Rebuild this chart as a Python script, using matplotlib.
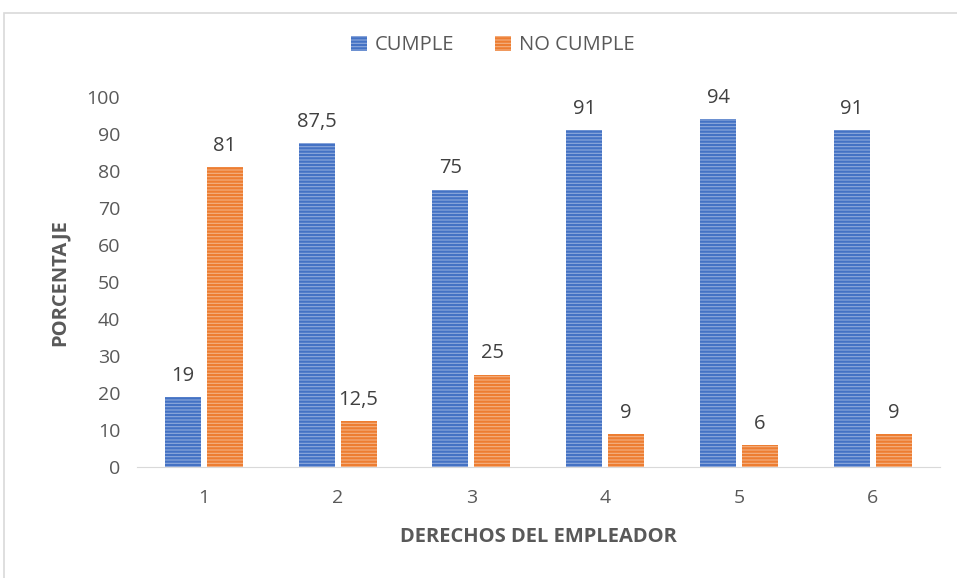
import matplotlib
matplotlib.use('Agg')
import matplotlib.pyplot as plt
import numpy as np
from matplotlib.patches import Rectangle

categorias = ['1', '2', '3', '4', '5', '6']
cumple = [19, 87.5, 75, 91, 94, 91]
no_cumple = [81, 12.5, 25, 9, 6, 9]
etiquetas_cumple = ['19', '87,5', '75', '91', '94', '91']
etiquetas_no_cumple = ['81', '12,5', '25', '9', '6', '9']

plt.rcParams['font.family'] = ['Open Sans', 'DejaVu Sans']
plt.rcParams['hatch.linewidth'] = 1.6
gris = '#595959'

fig = plt.figure(figsize=(9.57, 5.78), dpi=100)
ax = fig.add_axes([0.143, 0.192, 0.839, 0.64])

x = np.arange(len(categorias))
ancho = 0.27
b1 = ax.bar(x - 0.157, cumple, ancho, color='#8FAADC', edgecolor='#4472C4',
            linewidth=0, hatch='-----', label='CUMPLE')
b2 = ax.bar(x + 0.157, no_cumple, ancho, color='#F4B183', edgecolor='#ED7D31',
            linewidth=0, hatch='-----', label='NO CUMPLE')

for barras, etiquetas in ((b1, etiquetas_cumple), (b2, etiquetas_no_cumple)):
    for b, t in zip(barras, etiquetas):
        ax.text(b.get_x() + b.get_width() / 2, b.get_height() + 3.0, t,
                ha='center', va='bottom', fontsize=14.5, color='#404040')

ax.set_xlim(-0.5, 5.5)
ax.set_ylim(0, 100)
ax.set_xticks(x)
ax.set_xticklabels(categorias)
ax.set_yticks(range(0, 101, 10))
ax.tick_params(axis='both', length=0, labelsize=14, labelcolor=gris)
ax.tick_params(axis='x', pad=16)
ax.tick_params(axis='y', pad=12)
for s in ['top', 'right', 'left']:
    ax.spines[s].set_visible(False)
ax.spines['bottom'].set_color('#D9D9D9')

ax.set_xlabel('DERECHOS DEL EMPLEADOR', fontsize=14.5, fontweight='bold',
              color=gris, labelpad=14)
ax.set_ylabel('PORCENTAJE', fontsize=14.5, fontweight='bold', color=gris,
              labelpad=12)

fig.legend(loc='upper center', bbox_to_anchor=(0.515, 0.97), ncol=2,
           frameon=False, fontsize=14.5, labelcolor=gris, handlelength=0.8,
           handleheight=0.8, columnspacing=2.0, handletextpad=0.4)

fig.patches.append(Rectangle((0.004, -0.01), 1.1, 1.0 - 0.004 - 0.008,
                             transform=fig.transFigure, fill=False,
                             edgecolor='#D9D9D9', linewidth=1.2))

fig.savefig('out.png', dpi=100)
